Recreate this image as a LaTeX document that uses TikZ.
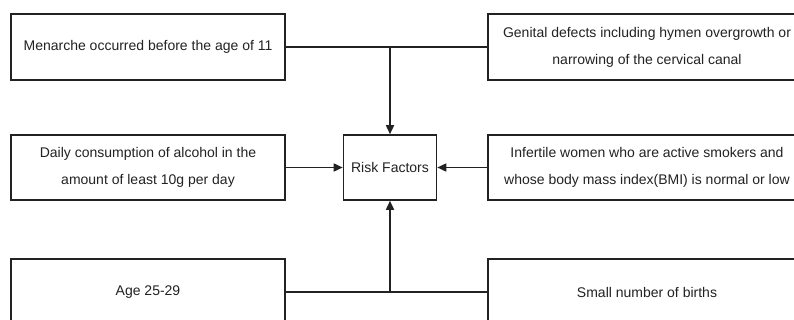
\documentclass[tikz,border=0pt]{standalone}
\usepackage{fontspec}
\setmainfont{Liberation Sans}
\usetikzlibrary{arrows.meta}
\definecolor{ink}{HTML}{222222}
\begin{document}
\begin{tikzpicture}[x=1pt,y=-1pt,
  box/.style={draw=ink, line width=1.6pt, align=center, inner sep=0pt,
    text=ink, font=\fontsize{14}{27}\selectfont},
  link/.style={draw=ink, line width=1.6pt},
  arr/.style={link, -{Triangle[length=9pt,width=8pt]}}]
\useasboundingbox (0,0) rectangle (794,320);
\clip (0,0) rectangle (794,320);
\fill[white] (0,0) rectangle (794,320);
\node[box, minimum width=274pt, minimum height=66pt] (men) at (148,47) {Menarche occurred before the age of 11};
\node[box, minimum width=318pt, minimum height=66pt] (gen) at (647,47) {Genital defects including hymen overgrowth or\\narrowing of the cervical canal};
\node[box, minimum width=93pt, minimum height=65pt] (risk) at (390,167.5) {Risk Factors};
\node[box, minimum width=274pt, minimum height=65pt] (daily) at (148,167.5) {Daily consumption of alcohol in the\\amount of least 10g per day};
\node[box, minimum width=318pt, minimum height=65pt] (inf) at (647,167.5) {Infertile women who are active smokers and\\whose body mass index(BMI) is normal or low};
\node[box, minimum width=274pt, minimum height=66pt] (age) at (148,292) {Age 25-29};
\node[box, minimum width=318pt, minimum height=66pt] (small) at (647,292) {Small number of births};
\coordinate (j1) at (risk.north |- men.east);
\coordinate (j2) at (risk.south |- age.east);
\draw[link] (men.east) -- (gen.west);
\draw[arr] (j1) -- (risk.north);
\draw[link] (age.east) -- (small.west);
\draw[arr] (j2) -- (risk.south);
\draw[arr] (daily.east) -- (risk.west);
\draw[arr] (inf.west) -- (risk.east);
\end{tikzpicture}
\end{document}
